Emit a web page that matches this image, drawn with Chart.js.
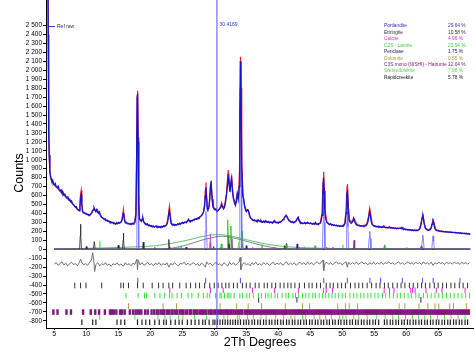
<!DOCTYPE html>
<html>
<head>
<meta charset="utf-8">
<script src="https://cdn.jsdelivr.net/npm/chart.js@4"></script>
<style>
  body { margin: 0; background: #fff; }
  canvas { display: block; }
</style>
</head>
<body>
<canvas id="xrd" width="474" height="352"></canvas>
<script>
// observed pattern ("Ref raw"), [2theta, counts]
const obsPoints = [
  [4.0,3000],[4.05,2400],[4.1,1800],[4.15,1300],[4.2,1050],[4.3,880],[4.4,810],[4.5,790],[4.6,760],[4.75,770],[4.9,730],
  [5.0,720],[5.15,735],[5.3,700],[5.45,690],[5.6,705],[5.75,670],[5.9,655],[6.05,665],[6.2,630],[6.35,640],[6.5,605],
  [6.65,615],[6.8,590],[6.95,575],[7.1,585],[7.25,555],[7.4,560],[7.55,530],[7.7,540],[7.85,505],[8.0,500],[8.15,485],
  [8.3,470],[8.45,475],[8.6,445],[8.75,440],[8.9,430],[9.0,470],[9.1,580],[9.2,610],[9.3,500],[9.4,425],[9.55,405],
  [9.7,410],[9.85,395],[10.0,400],[10.15,385],[10.3,390],[10.45,375],[10.6,385],[10.75,395],[10.9,420],[11.05,440],
  [11.2,465],[11.35,440],[11.5,420],[11.65,445],[11.8,410],[11.95,400],[12.05,415],[12.2,380],[12.35,360],[12.5,350],
  [12.65,345],[12.8,335],[12.95,340],[13.1,320],[13.25,325],[13.4,310],[13.55,315],[13.7,300],[13.85,305],[14.0,295],
  [14.15,300],[14.3,285],[14.45,290],[14.6,280],[14.75,295],[14.9,285],[15.05,300],[15.2,290],[15.4,300],[15.6,330],
  [15.75,400],[15.85,395],[15.95,330],[16.1,295],[16.25,300],[16.4,285],[16.55,290],[16.7,280],[16.85,285],[17.0,275],
  [17.15,290],[17.3,280],[17.45,295],[17.6,300],[17.75,380],[17.85,900],[17.95,1700],[18.02,1740],[18.1,1200],[18.2,500],
  [18.3,340],[18.45,320],[18.6,310],[18.75,330],[18.85,345],[18.95,310],[19.1,290],[19.25,280],[19.4,275],[19.55,285],
  [19.7,265],[19.85,270],[20.0,258],[20.15,265],[20.3,250],[20.45,260],[20.6,245],[20.75,255],[20.9,262],[21.05,248],
  [21.2,255],[21.35,245],[21.5,252],[21.65,240],[21.8,258],[21.95,248],[22.1,260],[22.25,252],[22.4,265],[22.55,270],
  [22.7,300],[22.85,380],[22.98,430],[23.1,360],[23.25,290],[23.4,275],[23.55,270],[23.7,280],[23.85,265],[24.0,275],
  [24.15,270],[24.3,285],[24.45,275],[24.6,290],[24.75,280],[24.9,295],[25.05,300],[25.2,290],[25.35,300],[25.5,305],
  [25.65,295],[25.8,310],[25.95,335],[26.1,315],[26.25,305],[26.4,320],[26.55,315],[26.7,330],[26.85,325],[27.0,340],
  [27.15,335],[27.3,345],[27.45,350],[27.6,340],[27.75,360],[27.9,370],[28.05,380],[28.2,400],[28.35,420],[28.5,480],
  [28.6,600],[28.7,690],[28.8,560],[28.9,450],[29.0,440],[29.15,460],[29.3,560],[29.42,720],[29.52,740],[29.65,560],
  [29.8,470],[29.95,450],[30.1,440],[30.25,450],[30.4,420],[30.55,430],[30.7,440],[30.85,455],[31.0,470],[31.15,500],
  [31.3,470],[31.45,450],[31.6,470],[31.75,520],[31.9,600],[32.05,700],[32.2,840],[32.32,720],[32.45,640],[32.6,730],
  [32.72,790],[32.85,640],[33.0,560],[33.15,520],[33.3,490],[33.45,530],[33.6,620],[33.75,560],[33.9,700],[34.0,1500],
  [34.08,2100],[34.18,1700],[34.3,900],[34.45,600],[34.6,560],[34.75,480],[34.9,430],[35.05,420],[35.2,440],[35.35,430],
  [35.5,380],[35.65,350],[35.8,340],[35.95,330],[36.1,320],[36.25,330],[36.4,315],[36.55,320],[36.7,305],[36.85,330],
  [37.0,320],[37.15,310],[37.3,320],[37.45,300],[37.6,305],[37.75,315],[37.9,300],[38.05,320],[38.2,305],[38.35,300],
  [38.5,310],[38.65,295],[38.8,305],[38.95,300],[39.1,290],[39.25,310],[39.4,320],[39.55,300],[39.7,295],[39.85,300],
  [40.0,290],[40.15,305],[40.3,300],[40.45,310],[40.6,320],[40.75,330],[40.9,340],[41.05,360],[41.2,375],[41.35,365],
  [41.5,340],[41.65,320],[41.8,315],[41.95,305],[42.1,300],[42.25,310],[42.4,295],[42.55,300],[42.7,310],[42.85,320],
  [43.0,345],[43.12,355],[43.25,320],[43.4,300],[43.55,290],[43.7,295],[43.85,285],[44.0,290],[44.15,300],[44.3,285],
  [44.45,295],[44.6,300],[44.75,290],[44.9,285],[45.05,295],[45.2,285],[45.35,280],[45.5,290],[45.65,280],[45.8,300],
  [45.95,285],[46.1,280],[46.25,275],[46.4,285],[46.55,290],[46.7,310],[46.85,380],[46.97,620],[47.07,800],[47.17,650],
  [47.3,400],[47.45,330],[47.6,300],[47.75,290],[47.9,280],[48.05,275],[48.2,285],[48.35,270],[48.5,275],[48.65,265],
  [48.8,270],[48.95,262],[49.1,270],[49.25,258],[49.4,265],[49.55,255],[49.7,262],[49.85,255],[50.0,260],[50.15,255],
  [50.3,270],[50.45,290],[50.6,400],[50.72,620],[50.82,640],[50.95,450],[51.1,320],[51.25,300],[51.4,290],[51.55,300],
  [51.7,320],[51.8,345],[51.9,330],[52.05,290],[52.2,275],[52.35,270],[52.5,262],[52.65,268],[52.8,258],[52.95,265],
  [53.1,255],[53.25,262],[53.4,255],[53.55,260],[53.7,262],[53.85,275],[54.0,300],[54.15,360],[54.28,420],[54.4,380],
  [54.55,300],[54.7,275],[54.85,265],[55.0,258],[55.15,262],[55.3,250],[55.45,256],[55.6,248],[55.75,255],[55.9,245],
  [56.05,250],[56.2,242],[56.35,255],[56.5,262],[56.65,248],[56.8,240],[56.95,246],[57.1,238],[57.25,244],[57.4,250],
  [57.55,238],[57.7,243],[57.85,235],[58.0,240],[58.15,232],[58.3,238],[58.45,230],[58.6,236],[58.75,228],[58.9,234],
  [59.05,240],[59.2,232],[59.35,245],[59.5,228],[59.65,222],[59.8,228],[59.95,218],[60.1,224],[60.25,215],[60.4,220],
  [60.55,212],[60.7,218],[60.85,210],[61.0,215],[61.15,208],[61.3,214],[61.45,206],[61.6,212],[61.75,208],[61.9,215],
  [62.05,220],[62.2,240],[62.35,290],[62.5,350],[62.6,370],[62.72,330],[62.85,270],[63.0,235],[63.15,222],[63.3,215],
  [63.45,210],[63.6,215],[63.75,218],[63.9,235],[64.05,280],[64.18,315],[64.3,290],[64.45,240],[64.6,218],[64.75,210],
  [64.9,205],[65.05,210],[65.2,202],[65.35,198],[65.5,204],[65.65,196],[65.8,200],[65.95,194],[66.1,198],[66.25,192],
  [66.4,196],[66.55,190],[66.7,194],[66.85,188],[67.0,192],[67.15,186],[67.3,190],[67.45,184],[67.6,190],[67.75,182],
  [67.9,186],[68.05,180],[68.2,185],[68.35,178],[68.5,183],[68.65,176],[68.8,180],[68.95,175],[69.1,180],[69.25,172],
  [69.4,178],[69.55,170],[69.7,176],[69.85,168],[70.0,172]
]

// calculated pattern
const calcPoints = [
  [4.0,3000],[4.1,1800],[4.2,1050],[4.3,870],[4.5,780],[5,715],[5.5,680],[6,640],[6.5,605],[7,570],[7.5,535],[8,495],
  [8.5,455],[8.9,430],[9.0,480],[9.1,620],[9.2,660],[9.3,520],[9.45,420],[10,395],[10.5,380],[10.9,410],[11.2,450],
  [11.5,430],[11.7,440],[12.0,410],[12.3,370],[12.7,340],[13,325],[13.5,312],[14,298],[14.5,290],[15,290],[15.5,310],
  [15.7,380],[15.8,445],[15.9,380],[16.1,300],[16.5,288],[17,282],[17.5,292],[17.75,400],[17.85,950],[17.95,1720],
  [18.02,1770],[18.1,1250],[18.2,520],[18.3,345],[18.6,320],[18.8,355],[19.0,305],[19.5,275],[20,262],[20.5,255],
  [21,252],[21.5,250],[22,255],[22.5,270],[22.75,330],[22.9,430],[23.0,480],[23.1,400],[23.3,290],[23.6,275],[24,275],
  [24.5,282],[25,292],[25.5,300],[26.0,325],[26.5,318],[27,335],[27.5,348],[28,375],[28.3,410],[28.5,520],[28.6,660],
  [28.7,745],[28.8,600],[28.95,460],[29.2,480],[29.4,700],[29.5,765],[29.65,600],[29.9,470],[30.2,445],[30.5,430],
  [30.8,450],[31.0,470],[31.15,520],[31.3,480],[31.6,480],[31.9,620],[32.05,760],[32.2,885],[32.35,760],[32.5,680],
  [32.7,820],[32.85,680],[33.0,580],[33.3,500],[33.6,630],[33.8,600],[33.95,900],[34.05,1800],[34.1,2150],[34.2,1800],
  [34.3,950],[34.5,607],[34.7,500],[35.0,440],[35.3,440],[35.6,360],[36,325],[36.5,318],[37,318],[37.5,305],[38,308],
  [38.5,302],[39,298],[39.5,305],[40,298],[40.5,310],[41.0,360],[41.25,383],[41.5,345],[42,305],[42.5,300],[42.9,330],
  [43.1,360],[43.3,315],[43.6,292],[44,290],[45,288],[46,280],[46.6,295],[46.85,420],[47.0,750],[47.1,867],[47.2,700],
  [47.35,420],[47.6,305],[48,280],[49,265],[50,260],[50.4,290],[50.6,450],[50.75,700],[50.82,730],[50.95,500],
  [51.1,330],[51.5,305],[51.8,350],[52.0,320],[52.3,275],[53,260],[53.8,275],[54.1,360],[54.3,458],[54.45,390],
  [54.7,280],[55,260],[56,248],[57,242],[58,236],[59,232],[60,220],[61,212],[62,218],[62.3,280],[62.5,360],[62.65,383],
  [62.8,300],[63.0,240],[63.5,212],[63.9,240],[64.1,300],[64.25,327],[64.4,280],[64.6,225],[65,206],[66,196],[67,190],
  [68,184],[69,178],[70,172]
]

// difference curve (obs - calc, offset)
const diffPoints = [
  [5.0,-165],[5.3,-150],[5.6,-180],[5.9,-160],[6.2,-140],[6.5,-175],[6.8,-155],[7.1,-185],[7.4,-160],[7.7,-145],
  [8.0,-170],[8.3,-160],[8.6,-185],[8.9,-150],[9.1,-110],[9.3,-150],[9.6,-175],[9.9,-160],[10.2,-180],[10.5,-150],
  [10.8,-120],[11.0,-40],[11.15,-110],[11.3,-250],[11.5,-170],[11.8,-150],[12.1,-185],[12.4,-160],[12.7,-175],[13.0,-150],
  [13.3,-180],[13.6,-165],[13.9,-190],[14.2,-160],[14.5,-175],[14.8,-150],[15.1,-180],[15.4,-165],[15.8,-190],[16.1,-150],
  [16.4,-175],[16.7,-160],[17.0,-185],[17.3,-155],[17.6,-170],[17.9,-110],[18.0,-230],[18.1,-120],[18.4,-175],[18.7,-150],
  [19.0,-180],[19.3,-165],[19.6,-145],[19.9,-175],[20.2,-160],[20.5,-185],[20.8,-155],[21.1,-170],[21.4,-150],[21.7,-180],
  [22.0,-160],[22.3,-175],[22.6,-150],[22.9,-200],[23.2,-160],[23.5,-175],[23.8,-150],[24.1,-170],[24.4,-185],[24.7,-155],
  [25.0,-165],[25.3,-145],[25.6,-175],[25.9,-155],[26.2,-180],[26.5,-160],[26.8,-150],[27.1,-175],[27.4,-160],[27.7,-185],
  [28.0,-155],[28.3,-170],[28.6,-200],[28.8,-140],[29.1,-170],[29.4,-155],[29.7,-185],[30.0,-160],[30.3,-145],[30.6,-175],
  [30.9,-160],[31.2,-185],[31.5,-150],[31.8,-170],[32.1,-190],[32.4,-145],[32.7,-175],[33.0,-150],[33.3,-180],[33.6,-160],
  [33.9,-140],[34.05,-90],[34.15,-230],[34.4,-165],[34.7,-150],[35.0,-175],[35.3,-160],[35.6,-185],[35.9,-150],[36.2,-170],
  [36.5,-145],[36.8,-175],[37.1,-160],[37.4,-180],[37.7,-150],[38.0,-170],[38.3,-155],[38.6,-180],[38.9,-160],[39.2,-145],
  [39.5,-175],[39.8,-155],[40.1,-170],[40.4,-150],[40.7,-180],[41.0,-160],[41.3,-140],[41.6,-175],[41.9,-155],[42.2,-170],
  [42.5,-150],[42.8,-180],[43.1,-160],[43.4,-145],[43.7,-170],[44.0,-150],[44.3,-175],[44.6,-145],[44.9,-165],[45.2,-150],
  [45.5,-175],[45.8,-155],[46.1,-140],[46.4,-165],[46.7,-150],[47.0,-120],[47.1,-240],[47.3,-160],[47.6,-145],[47.9,-170],
  [48.2,-150],[48.5,-175],[48.8,-155],[49.1,-140],[49.4,-165],[49.7,-150],[50.0,-175],[50.3,-155],[50.6,-140],[50.8,-200],
  [51.0,-145],[51.3,-170],[51.6,-150],[51.9,-165],[52.2,-145],[52.5,-170],[52.8,-155],[53.1,-140],[53.4,-165],[53.7,-150],
  [54.0,-175],[54.3,-150],[54.6,-165],[54.9,-145],[55.2,-170],[55.5,-150],[55.8,-165],[56.1,-145],[56.4,-170],[56.7,-150],
  [57.0,-160],[57.3,-140],[57.6,-165],[57.9,-150],[58.2,-170],[58.5,-155],[58.8,-140],[59.1,-165],[59.4,-150],[59.7,-170],
  [60.0,-155],[60.3,-140],[60.6,-165],[60.9,-150],[61.2,-170],[61.5,-145],[61.8,-160],[62.1,-150],[62.4,-170],[62.7,-140],
  [63.0,-165],[63.3,-150],[63.6,-170],[63.9,-145],[64.2,-180],[64.5,-150],[64.8,-165],[65.1,-145],[65.4,-160],[65.7,-150],
  [66.0,-170],[66.3,-145],[66.6,-160],[66.9,-150],[67.2,-165],[67.5,-145],[67.8,-160],[68.1,-150],[68.4,-170],[68.7,-145],
  [69.0,-160],[69.3,-150],[69.6,-165],[69.9,-150]
]

// single phase contributions
const portPhase = [[5,0],[17.8,0],[17.9,600],[18.0,1450],[18.1,600],[18.2,0],[28.5,0],[28.6,200],[28.7,420],[28.8,200],
  [28.9,0],[33.9,0],[34.0,900],[34.1,1800],[34.2,900],[34.3,0],[46.9,0],[47.0,300],[47.1,560],[47.2,300],[47.3,0],
  [50.6,0],[50.7,250],[50.8,420],[50.9,250],[51.0,0],[54.1,0],[54.2,120],[54.3,200],[54.4,120],[54.5,0],[62.4,0],
  [62.5,100],[62.6,160],[62.7,100],[62.8,0],[64.0,0],[64.1,90],[64.2,150],[64.3,90],[64.4,0],[70,0]]
const ettrPhase = [[5,0],[8.95,0],[9.05,150],[9.1,280],[9.15,150],[9.25,0],[9.9,0],[10.0,30],[10.1,0],[15.65,0],
  [15.75,100],[15.8,180],[15.85,100],[15.95,0],[18.8,0],[18.9,80],[19.0,0],[22.8,0],[22.9,110],[23.0,0],[25.5,0],
  [25.6,25],[25.7,0],[32.2,0],[32.3,60],[32.4,0],[34.9,0],[35.0,40],[35.1,0],[40.9,0],[41.0,40],[41.1,0],[70,0]]
const calcitePhase = [[5,0],[22.95,0],[23.05,30],[23.15,0],[29.3,0],[29.4,170],[29.5,0],[35.9,0],[36.0,20],[36.1,0],
  [39.35,0],[39.45,25],[39.55,0],[43.1,0],[43.2,25],[43.3,0],[47.45,0],[47.55,25],[47.65,0],[48.45,0],[48.55,25],
  [48.65,0],[70,0]]
const c2sPhase = [[5,0],[24.7,0],[24.8,40],[24.9,0],[31.0,0],[31.1,60],[31.2,0],[32.0,0],[32.1,330],[32.2,0],[32.5,0],
  [32.6,260],[32.7,0],[34.3,0],[34.4,200],[34.5,0],[37.35,0],[37.45,50],[37.55,0],[41.15,0],[41.25,60],[41.35,0],
  [45.65,0],[45.75,40],[45.85,0],[56.55,0],[56.65,50],[56.75,0],[60.0,0],[60.1,20],[60.2,0],[70,0]]
const periPhase = [[5,0],[42.85,0],[42.95,60],[43.05,0],[62.25,0],[62.35,30],[62.45,0],[70,0]]
const dolPhase = [[5,0],[30.85,0],[30.95,20],[31.05,0],[70,0]]
const c3sPhase = [[5,0],[29.3,0],[29.4,80],[29.5,0],[32.15,0],[32.25,150],[32.35,0],[32.65,0],[32.75,120],[32.85,0],
  [34.3,0],[34.4,60],[34.5,0],[41.2,0],[41.3,70],[41.4,0],[51.75,0],[51.85,100],[51.95,0],[56.5,0],[56.6,40],[56.7,0],
  [62.3,0],[62.4,40],[62.5,0],[70,0]]
const srebPhase = [[5,0],[12.0,0],[12.1,85],[12.2,0],[24.35,0],[24.45,35],[24.55,0],[33.7,0],[33.8,80],[33.9,0],
  [44.0,0],[44.1,30],[44.2,0],[50.0,0],[50.1,50],[50.2,0],[70,0]]
const rapidPhase = [[5,0],[11.1,0],[11.25,85],[11.4,0],[14.9,0],[15.0,45],[15.1,0],[20.6,0],[20.7,20],[20.8,0],
  [29.8,0],[29.9,30],[30.0,0],[70,0]]
// broad amorphous humps
const greenHump = [[5,0],[10,10],[15,20],[18,28],[20,35],[22,50],[24,75],[26,105],[28,140],[30,162],[32,155],
  [34,125],[36,90],[38,60],[40,38],[42,25],[45,15],[50,8],[60,4],[70,2]]
const greyHump = [[22,0],[24,20],[26,55],[28,100],[30,135],[31,145],[32,140],[34,110],[36,70],[38,35],[40,10],[42,0]]

// reflection positions (2theta)
const portTicks = [18.05,28.66,34.09,47.12,50.8,54.33,56.0,59.4,62.54,64.22,68.4]
const ettrTicks = [8.2,9.1,9.95,12.4,15.4,15.8,16.6,18.0,18.9,20.3,21.3,22.0,22.9,23.5,24.6,25.6,26.3,27.1,27.7,28.5,
  29.3,30.0,30.6,31.2,31.8,32.3,33.0,33.6,34.4,35.0,35.6,36.4,37.0,37.8,38.3,39.0,39.6,40.3,40.9,41.5,42.0,42.6,43.3,
  44.1,44.8,45.3,46.0,46.6,47.5,48.1,48.6,49.3,49.9,50.5,51.3,52.0,52.6,53.2,53.9,54.6,55.3,55.9,56.6,57.2,57.9,58.6,
  59.2,59.8,60.5,61.1,61.8,62.4,63.0,63.7,64.4,65.0,65.7,66.3,67.0,67.6,68.3,68.9,69.6]
const calciteTicks = [23.05,29.4,31.4,35.97,39.4,43.15,47.1,47.5,48.5,56.56,57.4,58.1,60.7,61.0,61.4,63.1,64.7,65.6,69.2]
const c2sTicks = [16.2,18.1,19.1,19.4,20.7,21.5,22.2,23.0,23.4,24.2,24.9,25.9,26.5,27.5,28.3,28.9,29.3,30.2,30.9,31.1,
  31.6,32.1,32.3,32.6,33.1,34.0,34.4,35.1,35.5,36.1,36.9,37.4,38.0,38.4,38.9,39.5,39.9,40.6,41.2,41.6,42.3,42.7,43.2,
  43.8,44.3,44.8,45.4,45.8,46.4,46.9,47.4,47.9,48.4,48.9,49.4,50.0,50.5,51.2,51.8,52.3,52.9,53.4,54.0,54.5,55.1,55.6,
  56.3,56.8,57.4,58.0,58.6,59.1,59.7,60.3,60.8,61.5,62.0,62.7,63.3,63.9,64.5,65.1,65.7,66.3,66.9,67.5,68.1,68.7,69.3,69.9]
const periTicks = [36.94,42.92,62.3]
const dolTicks = [16.6,22.0,24.1,30.9,33.5,35.3,37.4,41.1,43.8,44.9,49.3,50.5,51.1,52.4,58.9,59.8,62.0,63.4,64.5,65.1,
  66.8,67.4,69.4]
const c3sTicks = [4.85,5.5,6.9,7.6,9.5,10.7,11.4,12.0,12.9,13.7,14.0,14.3,14.7,15.3,15.6,16.0,16.8,17.3,17.7,18.0,18.3,
  18.6,19.2,19.6,20.2,20.6,21.0,21.3,21.7,22.0,22.2,22.6,22.9,23.3,23.5,23.9,24.2,24.6,24.9,25.1,25.5,25.8,26.2,26.4,
  26.8,27.1,27.4,27.8,28.1,28.4,28.7,29.1,29.4,29.6,30.0,30.3,30.6,30.9,31.2,31.5,31.8,32.0,32.2,32.5,32.7,33.0,33.3,
  33.6,33.9,34.2,34.4,34.8,35.1,35.4,35.7,36.0,36.3,36.6,36.9,37.2,37.5,37.8,38.1,38.4,38.7,39.0,39.3,39.6,39.9,40.2,
  40.5,40.8,41.1,41.3,41.6,41.9,42.2,42.5,42.8,43.1,43.4,43.7,44.0,44.3,44.6,44.9,45.2,45.5,45.8,46.1,46.4,46.7,47.0,
  47.3,47.6,47.9,48.2,48.5,48.8,49.1,49.4,49.7,50.0,50.3,50.6,50.9,51.2,51.5,51.8,52.1,52.4,52.7,53.0,53.3,53.6,53.9,
  54.2,54.5,54.8,55.1,55.4,55.7,56.0,56.3,56.6,56.9,57.2,57.5,57.8,58.1,58.4,58.7,59.0,59.3,59.6,59.9,60.2,60.5,60.8,
  61.1,61.4,61.7,62.0,62.3,62.6,62.9,63.2,63.5,63.8,64.1,64.4,64.7,65.0,65.3,65.6,65.9,66.2,66.5,66.8,67.1,67.4,67.7,
  68.0,68.3,68.6,68.9,69.2,69.5,69.8]
const srebTicks = [12.1,17.6,21.2,22.3,23.1,24.4,25.1,26.9,28.8,30.6,31.5,32.1,33.6,33.9,35.2,36.1,37.3,38.1,39.6,40.8,
  42.0,42.6,43.8,44.3,45.6,46.5,47.4,48.3,49.6,50.1,50.6,51.8,52.6,53.9,55.4,56.7,57.9,58.8,59.9,61.0,61.9,62.9,63.8,
  64.9,66.0,67.0,68.1,69.2]
const rapidTicks = [9.3,11.0,11.5,14.8,15.4,16.0,18.0,18.7,19.3,19.9,20.7,21.4,22.1,22.5,23.2,23.9,24.5,25.0,25.8,26.4,
  27.0,27.6,28.2,28.6,29.2,29.8,30.1,30.5,30.9,31.3,31.7,32.1,32.5,32.9,33.3,33.7,34.1,34.6,35.0,35.4,35.9,36.3,36.8,
  37.2,37.7,38.1,38.6,39.0,39.5,39.9,40.4,40.8,41.3,41.7,42.2,42.6,43.1,43.5,44.0,44.4,44.9,45.3,45.8,46.2,46.7,47.1,
  47.6,48.0,48.5,48.9,49.4,49.8,50.3,50.7,51.2,51.6,52.1,52.5,53.0,53.4,53.9,54.3,54.8,55.2,55.7,56.6,57.0,57.5,57.9,
  58.4,58.8,59.3,59.7,60.2,60.6,61.1,61.5,62.0,62.4,62.9,63.3,63.8,64.2,64.7,65.1,65.6,66.0,66.5,66.9,67.4,67.8,68.3,
  68.7,69.2,69.6]

// quantitative result table
const phaseNames = ["Portlandite","Ettringite","Calcite","C2S - Larnite","Periclase","Dolomite",
  "C3S mono (NISHI) - Hatrurite","Srebrodolskite","Rapidcreekite"]
const phaseWeights = ["29.64 %","10.58 %","4.96 %","22.54 %","1.75 %","0.55 %","12.04 %","7.98 %","5.78 %"]
const phaseColors = ["#3030d0","#303030","#e030e0","#40d040","#202070","#a8a040","#802080","#50e050","#202020"]

const markerAngle = 30.4169
const xTickValues = [5,10,15,20,25,30,35,40,45,50,55,60,65]
const yTickValues = [-800,-700,-600,-500,-400,-300,-200,-100,0,100,200,300,400,500,600,700,800,900,1000,
  1100,1200,1300,1400,1500,1600,1700,1800,1900,2000,2100,2200,2300,2400,2500]

const toXY = (arr) => arr.map(p => ({x: p[0], y: p[1]}))

const curve = (data, color, order, width, tension) => ({
  data: toXY(data),
  showLine: true,
  borderColor: color,
  borderWidth: width || 0.8,
  pointRadius: 0,
  tension: tension || 0,
  order: order
})

const tickRow = (positions, level, color, width) => ({
  data: positions.map(t => ({x: t, y: level})),
  showLine: false,
  pointStyle: "line",
  rotation: 90,
  pointRadius: 2.8,
  pointHoverRadius: 0,
  borderColor: color,
  borderWidth: width || 1,
  order: 5
})

const formatCount = (v) => {
  const s = String(Math.abs(v))
  const t = s.length > 3 ? s.slice(0, -3) + " " + s.slice(-3) : s
  return (v < 0 ? "-" : "") + t
}

const textPlugin = {
  id: "texts",
  afterDraw(chart) {
    const ctx = chart.ctx
    ctx.save()
    ctx.fillStyle = "#000"
    ctx.font = "12.5px 'Liberation Sans', Arial, sans-serif"
    ctx.textAlign = "center"
    ctx.textBaseline = "middle"
    ctx.save()
    ctx.translate(20, 173)
    ctx.rotate(-Math.PI / 2)
    ctx.fillText("Counts", 0, 0)
    ctx.restore()
    ctx.fillText("2Th Degrees", 260, 343)

    // result table
    ctx.font = "4.8px 'Liberation Sans', Arial, sans-serif"
    ctx.textAlign = "left"
    phaseNames.forEach((name, i) => {
      const y = 26 + i * 6.45
      ctx.fillStyle = phaseColors[i]
      ctx.fillText(name, 384, y)
      ctx.fillText(phaseWeights[i], 448, y)
    })

    // series label and peak marker
    ctx.strokeStyle = "#4040e0"
    ctx.lineWidth = 1
    ctx.beginPath()
    ctx.moveTo(49, 26.5)
    ctx.lineTo(55, 26.5)
    ctx.stroke()
    ctx.fillStyle = "#333"
    ctx.font = "5px 'Liberation Sans', Arial, sans-serif"
    ctx.fillText("Ref raw", 57, 26.5)
    ctx.fillStyle = "#3030d0"
    ctx.fillText(String(markerAngle), 219.5, 24.5)
    ctx.restore()
  }
}

new Chart(document.getElementById("xrd"), {
  type: "scatter",
  data: {
    datasets: [
      curve(obsPoints, "#1414d2", 1, 1.3),
      curve(calcPoints, "#ee2020", 2, 1.2),
      curve([[markerAngle, -880], [markerAngle, 2785]], "#5050f0", 0, 1),
      curve(diffPoints, "#707070", 3, 1),
      curve(portPhase, "#6a6aff", 4),
      curve(ettrPhase, "#202020", 4),
      curve(calcitePhase, "#e030e0", 4),
      curve(c2sPhase, "#20c020", 4),
      curve(periPhase, "#202070", 4),
      curve(dolPhase, "#a8a040", 4),
      curve(c3sPhase, "#802080", 4),
      curve(srebPhase, "#50e050", 4),
      curve(rapidPhase, "#202020", 4),
      curve(greenHump, "#40b040", 4, 0.8, 0.4),
      curve(greyHump, "#606060", 4, 0.8, 0.4),
      tickRow(portTicks, -350, "#5050e0"),
      tickRow(ettrTicks, -405, "#303030"),
      tickRow(calciteTicks, -460, "#e030e0"),
      tickRow(c2sTicks, -518, "#40e040"),
      tickRow(periTicks, -565, "#202070"),
      tickRow(dolTicks, -635, "#b0a040"),
      tickRow(c3sTicks, -702, "#801880", 2.4),
      tickRow(srebTicks, -757, "#50e050"),
      tickRow(rapidTicks, -815, "#202020", 1.2)
    ]
  },
  options: {
    responsive: false,
    animation: false,
    devicePixelRatio: 1,
    layout: { padding: 0, autoPadding: false },
    plugins: { legend: { display: false }, tooltip: { enabled: false } },
    scales: {
      x: {
        type: "linear",
        min: 3.7,
        max: 70.6,
        afterBuildTicks: (scale) => { scale.ticks = xTickValues.map(v => ({value: v})) },
        afterFit: (scale) => { scale.height = 24; scale.paddingLeft = 0; scale.paddingRight = 0 },
        grid: { drawOnChartArea: false, drawTicks: true, tickLength: 2, color: "#000" },
        border: { display: true, color: "#000", width: 1 },
        ticks: { padding: 0, color: "#000", font: { size: 7, family: "'Liberation Sans', Arial, sans-serif" }, maxRotation: 0 }
      },
      y: {
        type: "linear",
        min: -880,
        max: 2785,
        afterBuildTicks: (scale) => { scale.ticks = yTickValues.map(v => ({value: v})) },
        afterFit: (scale) => { scale.width = 46; scale.paddingTop = 0; scale.paddingBottom = 0 },
        grid: { drawOnChartArea: false, drawTicks: true, tickLength: 3, color: "#000" },
        border: { display: true, color: "#000", width: 1 },
        ticks: {
          padding: 1,
          color: "#000",
          autoSkip: false,
          font: { size: 6.5, family: "'Liberation Sans', Arial, sans-serif" },
          callback: (v) => formatCount(v)
        }
      }
    }
  },
  plugins: [textPlugin]
})
</script>
</body>
</html>
